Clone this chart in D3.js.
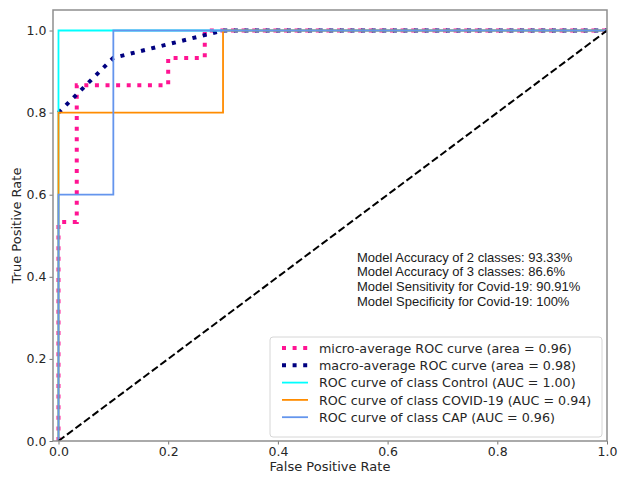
<!DOCTYPE html>
<html>
<head>
<meta charset="utf-8">
<script src="https://cdn.jsdelivr.net/npm/d3@7"></script>
<style>
  body { margin: 0; background: #fff; }
  svg { display: block; }
</style>
</head>
<body>
<script>
// data
var microFpr = [0, 0, 0.0333, 0.0333, 0.2, 0.2, 0.2667, 0.2667, 1];
var microTpr = [0, 0.5333, 0.5333, 0.8667, 0.8667, 0.9333, 0.9333, 1, 1];
var macroFpr = [0, 0.1, 0.3, 1];
var macroTpr = [0.8, 0.9333, 1, 1];
var controlFpr = [0, 0, 1];
var controlTpr = [0, 1, 1];
var covidFpr = [0, 0, 0.3, 0.3, 1];
var covidTpr = [0, 0.8, 0.8, 1, 1];
var capFpr = [0, 0, 0.1, 0.1, 1];
var capTpr = [0, 0.6, 0.6, 1, 1];
var xTicks = [0, 0.2, 0.4, 0.6, 0.8, 1.0];
var yTicks = [0, 0.2, 0.4, 0.6, 0.8, 1.0];
var legendLabels = [
    'micro-average ROC curve (area = 0.96)',
    'macro-average ROC curve (area = 0.98)',
    'ROC curve of class Control (AUC = 1.00)',
    'ROC curve of class COVID-19 (AUC = 0.94)',
    'ROC curve of class CAP (AUC = 0.96)'
];
var notes = [
    'Model Accuracy of 2 classes: 93.33%',
    'Model Accuracy of 3 classes: 86.6%',
    'Model Sensitivity for Covid-19: 90.91%',
    'Model Specificity for Covid-19: 100%'
];
//end data

var width = 618, height = 477;
var svg = d3.select('body').append('svg')
    .attr('width', width)
    .attr('height', height);

var x = d3.scaleLinear().domain([-0.01, 1.0]).range([53, 607]);
var y = d3.scaleLinear().domain([0, 1.05]).range([441, 10]);

function zip(xs, ys) {
    return xs.map(function (d, i) { return [d, ys[i]]; });
}
var line = d3.line()
    .x(function (d) { return x(d[0]); })
    .y(function (d) { return y(d[1]); });

svg.append('clipPath').attr('id', 'plotClip')
    .append('rect')
    .attr('x', x.range()[0]).attr('y', y.range()[1])
    .attr('width', x.range()[1] - x.range()[0])
    .attr('height', y.range()[0] - y.range()[1]);

var gPlot = svg.append('g').attr('clip-path', 'url(#plotClip)');

// curves, in the order matplotlib drew them
var curves = [
    { data: zip(microFpr, microTpr), color: 'deeppink', w: 4, dash: '4,6.6' },
    { data: zip(macroFpr, macroTpr), color: 'navy', w: 4, dash: '4,6.6' },
    { data: zip(controlFpr, controlTpr), color: 'aqua', w: 1.8, dash: null },
    { data: zip(covidFpr, covidTpr), color: 'darkorange', w: 1.8, dash: null },
    { data: zip(capFpr, capTpr), color: 'cornflowerblue', w: 1.8, dash: null }
];
curves.forEach(function (c) {
    gPlot.append('path')
        .datum(c.data)
        .attr('d', line)
        .attr('fill', 'none')
        .attr('stroke', c.color)
        .attr('stroke-width', c.w)
        .attr('stroke-dasharray', c.dash);
});

// chance line
gPlot.append('path')
    .datum([[0, 0], [1, 1]])
    .attr('d', line)
    .attr('fill', 'none')
    .attr('stroke', '#000')
    .attr('stroke-width', 2)
    .attr('stroke-dasharray', '7.4,3.2');

// axes
var xAxis = d3.axisBottom(x).tickValues(xTicks).tickFormat(d3.format('.1f')).tickSize(3.5).tickPadding(3);
var yAxis = d3.axisLeft(y).tickValues(yTicks).tickFormat(d3.format('.1f')).tickSize(3.5).tickPadding(3);

var gx = svg.append('g').attr('transform', 'translate(0,' + y.range()[0] + ')').call(xAxis);
var gy = svg.append('g').attr('transform', 'translate(' + x.range()[0] + ',0)').call(yAxis);
[gx, gy].forEach(function (g) {
    g.select('.domain').remove();
    g.selectAll('.tick line').attr('stroke', '#777').attr('stroke-width', 1);
    g.selectAll('.tick text')
        .attr('fill', '#262626')
        .style('font-family', 'DejaVu Sans')
        .style('font-size', '12.5px');
});

// frame
svg.append('rect')
    .attr('x', x.range()[0]).attr('y', y.range()[1])
    .attr('width', x.range()[1] - x.range()[0])
    .attr('height', y.range()[0] - y.range()[1])
    .attr('fill', 'none')
    .attr('stroke', '#8e8e8e')
    .attr('stroke-width', 1.5);

svg.append('text')
    .attr('x', (x.range()[0] + x.range()[1]) / 2)
    .attr('y', 471)
    .attr('text-anchor', 'middle')
    .style('font-family', 'DejaVu Sans')
    .style('font-size', '13px')
    .attr('fill', '#262626')
    .text('False Positive Rate');

svg.append('text')
    .attr('transform', 'translate(21,' + ((y.range()[0] + y.range()[1]) / 2) + ') rotate(-90)')
    .attr('text-anchor', 'middle')
    .style('font-family', 'DejaVu Sans')
    .style('font-size', '13px')
    .attr('fill', '#262626')
    .text('True Positive Rate');

// annotation block
svg.append('g').selectAll('text')
    .data(notes)
    .enter().append('text')
    .attr('x', 357)
    .attr('y', function (d, i) { return 261.5 + i * 14.8; })
    .style('font-family', 'Liberation Sans, Arial, sans-serif')
    .style('font-size', '13px')
    .attr('fill', '#1a1a1a')
    .text(function (d) { return d; });

// legend
var gLegend = svg.append('g');
gLegend.append('rect')
    .attr('x', 270).attr('y', 337)
    .attr('width', 332).attr('height', 100)
    .attr('rx', 3)
    .attr('fill', '#fff').attr('fill-opacity', 0.8)
    .attr('stroke', '#d6d6d6').attr('stroke-width', 1);
var rows = gLegend.selectAll('g.row')
    .data(legendLabels)
    .enter().append('g')
    .attr('class', 'row')
    .attr('transform', function (d, i) { return 'translate(0,' + (348 + i * 17.3) + ')'; });
rows.append('line')
    .attr('x1', 282).attr('x2', 308)
    .attr('y1', 0).attr('y2', 0)
    .attr('stroke', function (d, i) { return curves[i].color; })
    .attr('stroke-width', function (d, i) { return curves[i].w; })
    .attr('stroke-dasharray', function (d, i) { return curves[i].dash; });
rows.append('text')
    .attr('x', 319)
    .attr('y', 4.6)
    .style('font-family', 'DejaVu Sans')
    .style('font-size', '12.7px')
    .attr('fill', '#262626')
    .text(function (d) { return d; });
</script>
</body>
</html>
